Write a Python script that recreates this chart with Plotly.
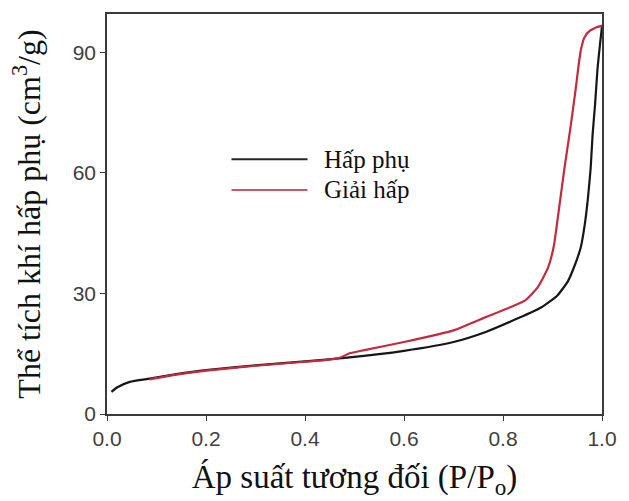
import plotly.graph_objects as go

# Relative pressure P/Po and adsorbed volume (cm3/g)
ads_x = [0.009, 0.02, 0.046, 0.086, 0.14, 0.2, 0.3, 0.4, 0.485, 0.6, 0.7, 0.765,
         0.83, 0.877, 0.91, 0.931, 0.945, 0.957, 0.965, 0.971, 0.977, 0.981,
         0.986, 0.991, 0.996, 1.0]
ads_y = [5.5, 6.6, 8.0, 8.8, 9.9, 10.9, 12.1, 13.1, 14.0, 15.7, 17.9, 20.4,
         23.8, 26.5, 29.5, 33.0, 37.0, 41.4, 47.0, 53.0, 61.0, 69.5,
         77.0, 86.0, 92.0, 96.5]

des_x = [0.086, 0.14, 0.2, 0.3, 0.4, 0.44, 0.47, 0.49, 0.52, 0.6, 0.7, 0.765,
         0.844, 0.87, 0.891, 0.903, 0.912, 0.924, 0.936, 0.947, 0.953, 0.958,
         0.965, 0.975, 0.987, 1.0]
des_y = [8.6, 9.8, 10.8, 12.0, 13.0, 13.4, 14.0, 15.1, 15.9, 17.9, 20.8, 24.1,
         28.2, 31.5, 36.4, 42.0, 50.0, 61.0, 71.0, 81.0, 87.0, 91.0,
         93.8, 95.3, 96.1, 96.6]

series_names = ["Hấp phụ", "Giải hấp"]
x_ticks = [0.0, 0.2, 0.4, 0.6, 0.8, 1.0]
y_ticks = [0, 30, 60, 90]

BLACK = "#161616"
RED = "#c42a3c"
SERIF = "Liberation Serif, Times New Roman, serif"
SANS = "Liberation Sans, Arial, sans-serif"

fig = go.Figure()
fig.add_trace(go.Scatter(x=ads_x, y=ads_y, mode="lines", name=series_names[0],
                         line=dict(color=BLACK, width=2.2, shape="spline", smoothing=0.5),
                         showlegend=False))
fig.add_trace(go.Scatter(x=des_x, y=des_y, mode="lines", name=series_names[1],
                         line=dict(color=RED, width=2.2, shape="spline", smoothing=0.5),
                         showlegend=False))

# Hand-placed key inside the plot area
key = [(series_names[0], "#262626", 0.637), (series_names[1], "#cc5566", 0.560)]
for label, col, yk in key:
    fig.add_shape(type="line", xref="paper", yref="paper", x0=0.2515, x1=0.405,
                  y0=yk, y1=yk, line=dict(color=col, width=2))
    fig.add_annotation(xref="paper", yref="paper", x=0.435, y=yk, text=label,
                       showarrow=False, xanchor="left", yanchor="middle",
                       font=dict(family=SERIF, size=25, color="#111111"))

axis_common = dict(showline=True, linecolor="#3a3a3a", linewidth=1.6, mirror=True,
                   ticks="outside", ticklen=5, tickwidth=1.4, tickcolor="#3a3a3a",
                   showgrid=False, zeroline=False,
                   tickfont=dict(family=SANS, size=21, color="#404040"))

fig.update_xaxes(range=[0, 1], tickvals=x_ticks,
                 ticktext=[f"{v:.1f}" for v in x_ticks],
                 title=dict(text="Áp suất tương đối (P/P<sub>o</sub>)", standoff=16,
                            font=dict(family=SERIF, size=33, color="#111111")),
                 **axis_common)
fig.update_yaxes(range=[0, 99.5], tickvals=y_ticks,
                 title=dict(text="Thể tích khí hấp phụ (cm<sup>3</sup>/g)", standoff=22,
                            font=dict(family=SERIF, size=32, color="#111111")),
                 **axis_common)

fig.update_layout(width=629, height=501, plot_bgcolor="white", paper_bgcolor="white",
                  margin=dict(l=107, r=21, t=12, b=87))

fig.write_html("out.html")
